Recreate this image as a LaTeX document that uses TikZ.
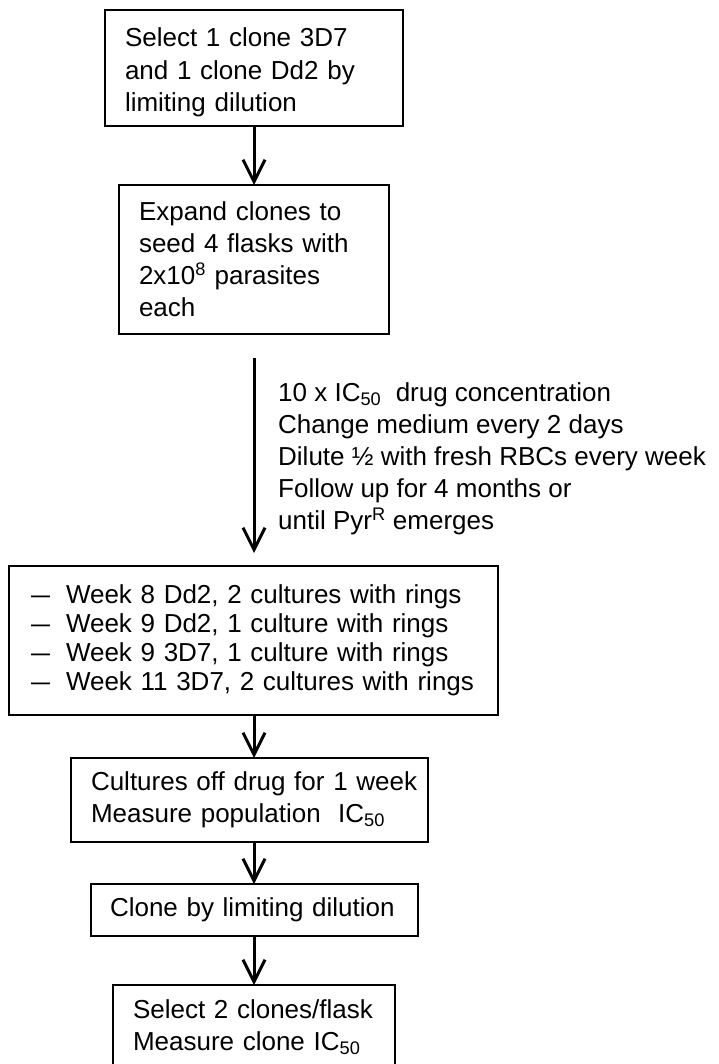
\documentclass[tikz,border=0pt]{standalone}
\usepackage{fontspec}
\setmainfont{Liberation Sans}
\usepackage{graphicx}
\usetikzlibrary{arrows.meta}
\newcommand{\ldash}{\makebox[35pt][l]{\scalebox{0.73}[1]{—}}}
\begin{document}
\begin{tikzpicture}[x=1pt,y=-1pt,
  font=\fontsize{26}{32}\selectfont,
  box/.style={draw, line width=2pt, rectangle, anchor=north west, align=left,
    inner xsep=20pt, inner ysep=0pt, outer sep=0pt},
  flow/.style={line width=3pt, -{Straight Barb[length=22pt,width=22pt,line width=3pt]}}]
\useasboundingbox (0,0) rectangle (719,1064);
\coordinate (ax) at (254,0);
\node[box, text width=258pt, minimum height=116pt, font=\fontsize{26}{32.5}\selectfont] (b1) at (105,10)
  {\rule{0pt}{28pt}Select 1 clone 3D7\\and 1 clone Dd2 by\\limiting dilution};
\node[box, text width=230pt, minimum height=149pt] (b2) at (119,185)
  {Expand clones to\\seed 4 flasks with\\2x10\textsuperscript{8} parasites\\each};
\node[box, inner xsep=22pt, text width=445pt, minimum height=149pt,
  font=\fontsize{26}{29}\selectfont] (b3) at (9,566)
  {\ldash Week 8 Dd2, 2 cultures with rings\\
   \ldash Week 9 Dd2, 1 culture with rings\\
   \ldash Week 9 3D7, 1 culture with rings\\
   \ldash Week 11 3D7, 2 cultures with rings};
\node[box, text width=317pt, minimum height=84pt] (b4) at (71,758)
  {\mbox{Cultures off drug for 1 week}\\\mbox{Measure population\ \ IC\textsubscript{50}}};
\node[box, inner xsep=19pt, text width=289pt, minimum height=52pt] (b5) at (91,884)
  {Clone by limiting dilution};
\node[box, text width=242pt, minimum height=84pt] (b6) at (113,985)
  {Select 2 clones/flask\\Measure clone IC\textsubscript{50}};
\node[anchor=north west, align=left, inner sep=0pt] (lbl) at (278,382)
  {10 x IC\textsubscript{50}\ \ drug concentration\\
   Change medium every 2 days\\
   Dilute ½ with fresh RBCs every week\\
   Follow up for 4 months or\\
   until Pyr\textsuperscript{R} emerges};
\draw[flow] (b1.south -| ax) -- (b2.north -| ax);
\draw[flow, shorten <=24pt, shorten >=13pt] (b2.south -| ax) -- (b3.north -| ax);
\draw[flow] (b3.south -| ax) -- (b4.north -| ax);
\draw[flow] (b4.south -| ax) -- (b5.north -| ax);
\draw[flow] (b5.south -| ax) -- (b6.north -| ax);
\end{tikzpicture}
\end{document}
